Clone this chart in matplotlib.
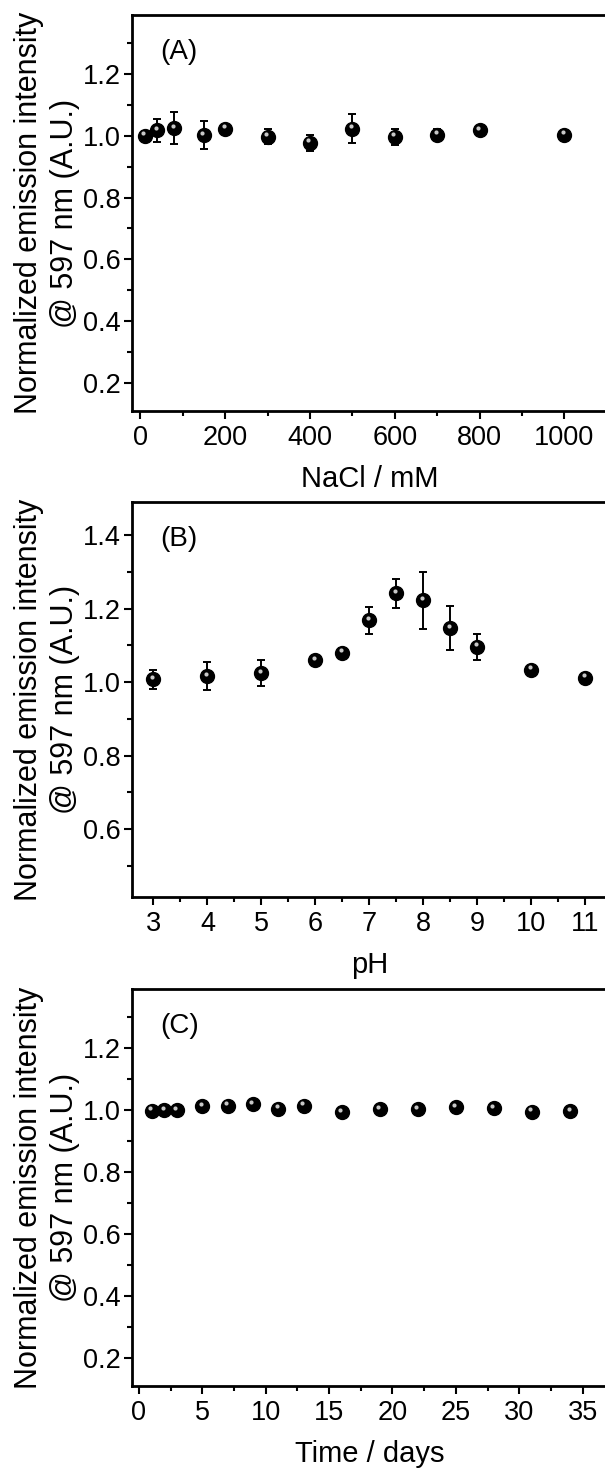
import matplotlib
matplotlib.use('Agg')

import matplotlib.pyplot as plt
from matplotlib.ticker import MultipleLocator
from matplotlib.transforms import offset_copy

plt.rcParams['font.family'] = ['Liberation Sans', 'DejaVu Sans']

# --- Data ---
nacl_mM = [10, 40, 80, 150, 200, 300, 400, 500, 600, 700, 800, 1000]
nacl_int = [1.000, 1.018, 1.024, 1.002, 1.022, 0.996, 0.977, 1.022, 0.996, 1.003, 1.017, 1.003]
nacl_err = [0.010, 0.037, 0.051, 0.044, 0.010, 0.024, 0.026, 0.047, 0.027, 0.018, 0.010, 0.010]

ph_val = [3, 4, 5, 6, 6.5, 7, 7.5, 8, 8.5, 9, 10, 11]
ph_int = [1.007, 1.016, 1.024, 1.060, 1.080, 1.168, 1.241, 1.222, 1.147, 1.096, 1.033, 1.012]
ph_err = [0.027, 0.038, 0.036, 0.010, 0.012, 0.037, 0.039, 0.077, 0.059, 0.035, 0.008, 0.005]

days = [1, 2, 3, 5, 7, 9, 11, 13, 16, 19, 22, 25, 28, 31, 34]
days_int = [0.998, 0.999, 0.999, 1.012, 1.013, 1.019, 1.004, 1.014, 0.993, 1.002, 1.002, 1.009, 1.005, 0.995, 0.996]
days_err = [0.004, 0.004, 0.004, 0.005, 0.005, 0.005, 0.004, 0.005, 0.004, 0.004, 0.004, 0.005, 0.004, 0.004, 0.004]

ylabel = 'Normalized emission intensity\n@ 597 nm (A.U.)'

fig = plt.figure(figsize=(6.05, 14.7), dpi=100)

# axes run a little past the right edge, like the cropped original
panels = [
    dict(rect=[0.218, 0.7204, 0.785, 0.2694], x=nacl_mM, y=nacl_int, e=nacl_err,
         xlim=(-20, 1100), ylim=(0.11, 1.39), xmaj=200, xmin=100, ymin=0.1,
         yticks=[0.2, 0.4, 0.6, 0.8, 1.0, 1.2], xlabel='NaCl / mM', tag='(A)'),
    dict(rect=[0.218, 0.3898, 0.785, 0.2687], x=ph_val, y=ph_int, e=ph_err,
         xlim=(2.6, 11.4), ylim=(0.415, 1.49), xmaj=1, xmin=0.5, ymin=0.1,
         yticks=[0.6, 0.8, 1.0, 1.2, 1.4], xlabel='pH', tag='(B)'),
    dict(rect=[0.218, 0.0571, 0.785, 0.2701], x=days, y=days_int, e=days_err,
         xlim=(-0.55, 36.9), ylim=(0.11, 1.39), xmaj=5, xmin=2.5, ymin=0.1,
         yticks=[0.2, 0.4, 0.6, 0.8, 1.0, 1.2], xlabel='Time / days', tag='(C)'),
]

for p in panels:
    ax = fig.add_axes(p['rect'])
    ax.errorbar(p['x'], p['y'], yerr=p['e'], fmt='o', color='black', ms=10,
                capsize=3, elinewidth=1.4, capthick=1.4, zorder=3)
    # small highlight to mimic the shaded spheres
    hl = offset_copy(ax.transData, fig=fig, x=-1.5, y=2.5, units='dots')
    ax.plot(p['x'], p['y'], 'o', color='#c8c8c8', ms=3, mec='none',
            transform=hl, zorder=4)

    ax.set_xlim(*p['xlim'])
    ax.set_ylim(*p['ylim'])
    ax.xaxis.set_major_locator(MultipleLocator(p['xmaj']))
    ax.xaxis.set_minor_locator(MultipleLocator(p['xmin']))
    ax.set_yticks(p['yticks'])
    ax.yaxis.set_minor_locator(MultipleLocator(p['ymin']))

    ax.tick_params(which='major', direction='out', length=6, width=1.5, labelsize=19.5)
    ax.tick_params(axis='x', which='major', pad=4)
    ax.tick_params(axis='y', which='major', pad=2)
    ax.tick_params(which='minor', direction='out', length=3.5, width=1.5)
    ax.tick_params(top=False, right=False)
    for s in ax.spines.values():
        s.set_linewidth(2)

    ax.set_xlabel(p['xlabel'], fontsize=21, labelpad=10)
    ax.set_ylabel(ylabel, fontsize=22, labelpad=2, linespacing=1.25)
    ax.text(0.06, 0.907, p['tag'], transform=ax.transAxes, fontsize=20,
            ha='left', va='center')

fig.savefig('out.png', dpi=100)
